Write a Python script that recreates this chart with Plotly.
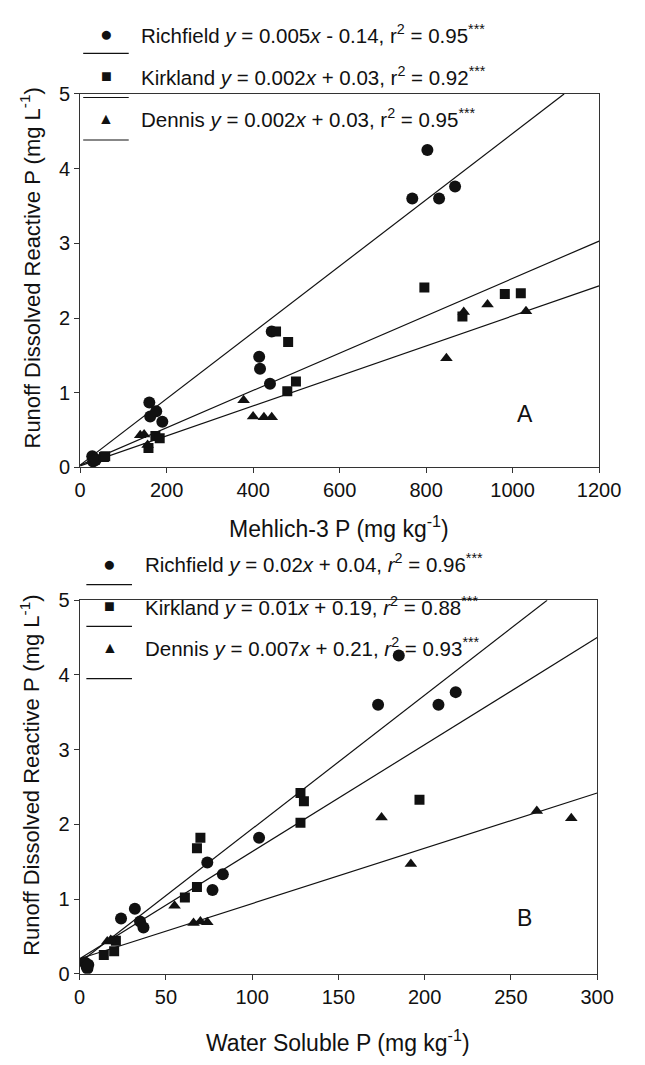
import plotly.graph_objects as go

W, H = 645, 1065

# ---------------- data: panel A (Mehlich-3 P) ----------------
rich_a_x = [28, 30, 33, 36, 160, 162, 176, 190, 414, 416, 439, 443, 768, 803, 830, 867]
rich_a_y = [0.15, 0.08, 0.12, 0.10, 0.87, 0.68, 0.75, 0.61, 1.48, 1.32, 1.12, 1.82, 3.60, 4.25, 3.60, 3.76]
kirk_a_x = [55, 58, 158, 174, 184, 453, 481, 499, 479, 796, 884, 982, 1019]
kirk_a_y = [0.14, 0.15, 0.26, 0.42, 0.39, 1.82, 1.68, 1.15, 1.02, 2.41, 2.02, 2.32, 2.33]
denn_a_x = [139, 148, 156, 378, 400, 425, 443, 847, 887, 942, 1031]
denn_a_y = [0.43, 0.44, 0.30, 0.90, 0.68, 0.67, 0.67, 1.46, 2.08, 2.18, 2.09]

# regression lines, end points
rich_a_fit_x = [0, 1119]
rich_a_fit_y = [0.03, 5.0]
kirk_a_fit_x = [0, 1200]
kirk_a_fit_y = [0.03, 3.03]
denn_a_fit_x = [0, 1200]
denn_a_fit_y = [0.02, 2.43]

# ---------------- data: panel B (Water soluble P) ----------------
rich_b_x = [3, 4, 4.5, 5, 24, 32, 35, 37, 74, 77, 83, 104, 173, 185, 208, 218]
rich_b_y = [0.15, 0.10, 0.07, 0.12, 0.74, 0.87, 0.70, 0.62, 1.49, 1.12, 1.33, 1.82, 3.60, 4.26, 3.60, 3.77]
kirk_b_x = [14, 20, 21, 61, 68, 68, 70, 128, 128, 130, 197]
kirk_b_y = [0.25, 0.30, 0.44, 1.02, 1.16, 1.68, 1.82, 2.02, 2.42, 2.31, 2.33]
denn_b_x = [16, 18, 55, 66, 70, 74, 175, 192, 265, 285]
denn_b_y = [0.43, 0.45, 0.91, 0.68, 0.70, 0.69, 2.09, 1.47, 2.18, 2.08]

rich_b_fit_x = [0, 271]
rich_b_fit_y = [0.15, 5.0]
kirk_b_fit_x = [0, 300]
kirk_b_fit_y = [0.20, 4.50]
denn_b_fit_x = [0, 300]
denn_b_fit_y = [0.20, 2.42]

# ---------------- text ----------------
legend_a_labels = [
    "Richfield <i>y</i> = 0.005<i>x</i> - 0.14, r<sup>2</sup> = 0.95<sup>***</sup>",
    "Kirkland <i>y</i> = 0.002<i>x</i> + 0.03, r<sup>2</sup> = 0.92<sup>***</sup>",
    "Dennis <i>y</i> = 0.002<i>x</i> + 0.03, r<sup>2</sup> = 0.95<sup>***</sup>",
]
legend_b_labels = [
    "Richfield <i>y</i> = 0.02<i>x</i> + 0.04, <i>r</i><sup>2</sup> = 0.96<sup>***</sup>",
    "Kirkland <i>y</i> = 0.01<i>x</i> + 0.19, <i>r</i><sup>2</sup> = 0.88<sup>***</sup>",
    "Dennis <i>y</i> = 0.007<i>x</i> + 0.21, <i>r</i><sup>2</sup> = 0.93<sup>***</sup>",
]
legend_glyphs = ["\u25CF", "\u25A0", "\u25B2"]
x_title_a = "Mehlich-3 P (mg kg<sup>-1</sup>)"
x_title_b = "Water Soluble P (mg kg<sup>-1</sup>)"
y_title = "Runoff Dissolved Reactive P (mg L<sup>-1</sup>)"
panel_labels = ["A", "B"]

# ---------------- styles / layout constants ----------------
FONT = "Liberation Sans, Arial, Helvetica, sans-serif"
INK = "#111111"
AX = "#333333"
symbols = ["circle", "square", "triangle-up"]
msizes = [12, 10, 11]


def px(x):
    return x / W


def py(y):
    return 1 - y / H


fig = go.Figure()

panels = [
    ("x", "y", [(rich_a_x, rich_a_y), (kirk_a_x, kirk_a_y), (denn_a_x, denn_a_y)],
     [(rich_a_fit_x, rich_a_fit_y), (kirk_a_fit_x, kirk_a_fit_y), (denn_a_fit_x, denn_a_fit_y)]),
    ("x2", "y2", [(rich_b_x, rich_b_y), (kirk_b_x, kirk_b_y), (denn_b_x, denn_b_y)],
     [(rich_b_fit_x, rich_b_fit_y), (kirk_b_fit_x, kirk_b_fit_y), (denn_b_fit_x, denn_b_fit_y)]),
]
names = ["Richfield", "Kirkland", "Dennis"]
for xa, ya, pts, fits in panels:
    for i, (fx, fy) in enumerate(fits):
        fig.add_trace(go.Scatter(x=fx, y=fy, mode="lines", xaxis=xa, yaxis=ya,
                                 line=dict(color=INK, width=1.2), showlegend=False,
                                 name=names[i] + " fit"))
    for i, (dx, dy) in enumerate(pts):
        fig.add_trace(go.Scatter(x=dx, y=dy, mode="markers", xaxis=xa, yaxis=ya,
                                 marker=dict(symbol=symbols[i], size=msizes[i], color=INK,
                                             line=dict(width=0)),
                                 showlegend=False, name=names[i]))

axis_common = dict(showline=True, mirror=True, linecolor=AX, linewidth=1,
                   ticks="outside", ticklen=5, tickwidth=1, tickcolor=AX,
                   showgrid=False, zeroline=False,
                   tickfont=dict(family=FONT, size=20, color=INK))

fig.update_layout(
    width=W, height=H,
    margin=dict(l=0, r=0, t=0, b=0),
    paper_bgcolor="white", plot_bgcolor="white",
    showlegend=False,
    font=dict(family=FONT, color=INK),
    xaxis=dict(domain=[px(77.5), px(620)], anchor="y", range=[0, 1200], tick0=0, dtick=200,
               **axis_common),
    yaxis=dict(domain=[py(466), py(84.7)], anchor="x", range=[0, 5], tick0=0, dtick=1,
               **axis_common),
    xaxis2=dict(domain=[px(77), px(618)], anchor="y2", range=[0, 300], tick0=0, dtick=50,
                **axis_common),
    yaxis2=dict(domain=[py(983), py(601.7)], anchor="x2", range=[0, 5], tick0=0, dtick=1,
                **axis_common),
)

annotations = []
shapes = []

# legends (drawn SigmaPlot-style: symbol row, then line row)
legend_specs = [
    (legend_a_labels, 105, 139, [23.3, 66.7, 109.3], [43.3, 88.3, 131.7], (80.7, 128.3)),
    (legend_b_labels, 108.3, 143.3, [564, 607.5, 649.5], [585.7, 628.3, 681.7], (84, 131.7)),
]
glyph_sizes = [21, 18, 16]
for labels, gx, tx, rows, lrows, (l0, l1) in legend_specs:
    for i, lab in enumerate(labels):
        annotations.append(dict(x=px(tx), y=py(rows[i]), xref="paper", yref="paper",
                                text=lab, showarrow=False, xanchor="left", yanchor="middle",
                                font=dict(family=FONT, size=20.5, color=INK)))
        annotations.append(dict(x=px(gx), y=py(rows[i]), xref="paper", yref="paper",
                                text=legend_glyphs[i], showarrow=False, xanchor="center",
                                yanchor="middle",
                                font=dict(family=FONT, size=glyph_sizes[i], color=INK)))
        shapes.append(dict(type="line", xref="paper", yref="paper",
                           x0=px(l0), x1=px(l1), y0=py(lrows[i]), y1=py(lrows[i]),
                           line=dict(color=INK, width=1.2)))

# axis titles
annotations.append(dict(x=px(348.5), y=py(527), xref="paper", yref="paper", text=x_title_a,
                        showarrow=False, xanchor="center", yanchor="middle",
                        font=dict(family=FONT, size=23, color=INK)))
annotations.append(dict(x=px(347.5), y=py(1052), xref="paper", yref="paper", text=x_title_b,
                        showarrow=False, xanchor="center", yanchor="middle",
                        font=dict(family=FONT, size=23, color=INK)))
for yc in (262, 780):
    annotations.append(dict(x=px(25), y=py(yc), xref="paper", yref="paper", text=y_title,
                            showarrow=False, textangle=-90, xanchor="center", yanchor="middle",
                            font=dict(family=FONT, size=22, color=INK)))

# panel letters
annotations.append(dict(x=1028, y=0.71, xref="x", yref="y", text=panel_labels[0], showarrow=False,
                        font=dict(family=FONT, size=23, color=INK)))
annotations.append(dict(x=258, y=0.74, xref="x2", yref="y2", text=panel_labels[1], showarrow=False,
                        font=dict(family=FONT, size=23, color=INK)))

fig.update_layout(annotations=annotations, shapes=shapes)
fig.write_html("out.html")
